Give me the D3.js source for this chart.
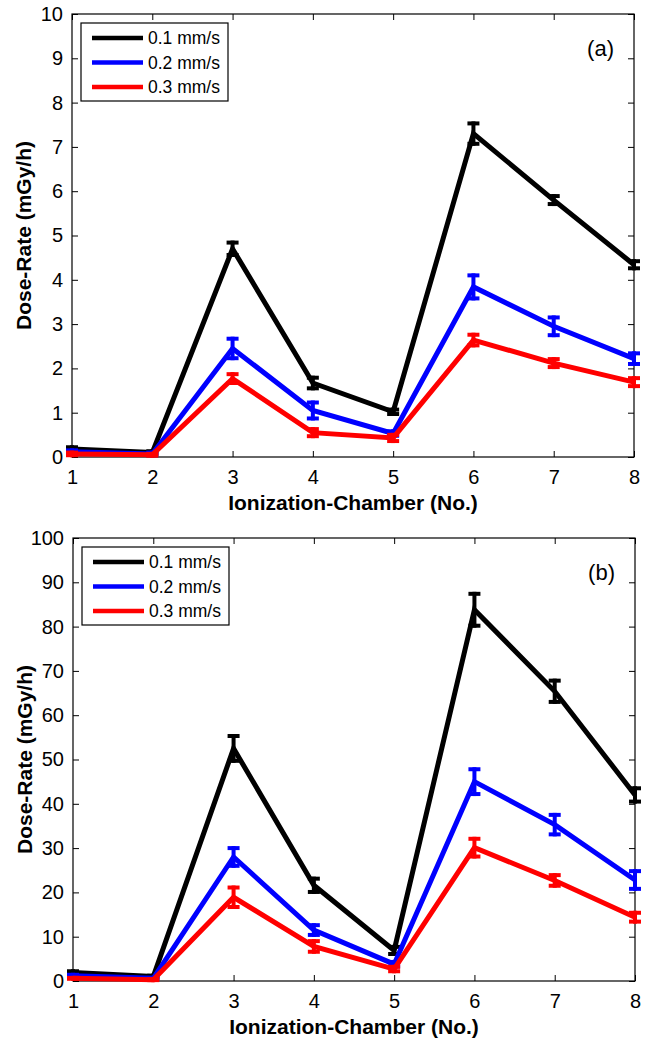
<!DOCTYPE html>
<html>
<head>
<meta charset="utf-8">
<script src="https://cdn.jsdelivr.net/npm/d3@7"></script>
<style>
  body { margin: 0; background: #fff; }
  svg { font-family: "Liberation Sans", Arial, sans-serif; }
</style>
</head>
<body>
<svg id="chart" width="649" height="1041"></svg>
<script>
const chambers = [1, 2, 3, 4, 5, 6, 7, 8];
const speeds = ["0.1 mm/s", "0.2 mm/s", "0.3 mm/s"];
const colors = ["#000000", "#0000ff", "#ff0000"];

// panel (a), mGy/h
const a01 = [0.18, 0.10, 4.70, 1.67, 1.02, 7.30, 5.80, 4.34];
const a01err = [0.04, 0.03, 0.14, 0.12, 0.05, 0.23, 0.09, 0.08];
const a02 = [0.12, 0.07, 2.45, 1.05, 0.53, 3.84, 2.95, 2.22];
const a02err = [0.03, 0.03, 0.22, 0.18, 0.05, 0.26, 0.20, 0.12];
const a03 = [0.07, 0.05, 1.77, 0.55, 0.43, 2.64, 2.12, 1.69];
const a03err = [0.03, 0.02, 0.10, 0.08, 0.07, 0.12, 0.09, 0.09];

// panel (b), mGy/h
const b01 = [1.9, 1.0, 52.5, 21.6, 6.9, 83.8, 65.4, 42.0];
const b01err = [0.3, 0.2, 2.8, 1.5, 0.8, 3.6, 2.4, 1.5];
const b02 = [1.2, 0.6, 28.0, 11.5, 3.8, 45.0, 35.3, 22.8];
const b02err = [0.2, 0.1, 2.0, 1.1, 0.5, 2.8, 2.2, 2.0];
const b03 = [0.6, 0.3, 18.9, 7.8, 2.7, 30.1, 22.7, 14.4];
const b03err = [0.1, 0.1, 2.2, 1.2, 0.5, 2.0, 1.2, 1.0];

const yTicksA = d3.range(0, 11, 1);
const yTicksB = d3.range(0, 101, 10);

const svg = d3.select("#chart");

function panel(cfg) {
  const {top, bottom, left, right, ymax, yticks, series, errs, tag} = cfg;
  const g = svg.append("g");
  const x = d3.scaleLinear().domain([1, 8]).range([left, right]);
  const y = d3.scaleLinear().domain([0, ymax]).range([bottom, top]);
  const tl = 6;

  // box
  g.append("rect")
    .attr("x", left).attr("y", top)
    .attr("width", right - left).attr("height", bottom - top)
    .attr("fill", "none").attr("stroke", "#000").attr("stroke-width", 1.2);

  // axes, ticks pointing inward on all four sides
  const xb = g.append("g").attr("transform", `translate(0,${bottom})`)
    .call(d3.axisBottom(x).tickValues(chambers).tickSize(-tl).tickPadding(13).tickFormat(d3.format("d")));
  const xt = g.append("g").attr("transform", `translate(0,${top})`)
    .call(d3.axisTop(x).tickValues(chambers).tickSize(-tl).tickFormat(""));
  const yl = g.append("g").attr("transform", `translate(${left},0)`)
    .call(d3.axisLeft(y).tickValues(yticks).tickSize(-tl).tickPadding(9).tickFormat(d3.format("d")));
  const yr = g.append("g").attr("transform", `translate(${right},0)`)
    .call(d3.axisRight(y).tickValues(yticks).tickSize(-tl).tickFormat(""));
  [xb, xt, yl, yr].forEach(a => {
    a.select(".domain").remove();
    a.selectAll(".tick line").attr("stroke", "#000").attr("stroke-width", 1);
    a.selectAll(".tick text").attr("font-size", 20).attr("fill", "#000");
  });

  // axis titles
  g.append("text")
    .attr("x", (left + right) / 2).attr("y", bottom + 53)
    .attr("text-anchor", "middle").attr("font-size", 21).attr("font-weight", "bold")
    .text("Ionization-Chamber (No.)");
  g.append("text")
    .attr("transform", `translate(${left - 41},${(top + bottom) / 2}) rotate(-90)`)
    .attr("text-anchor", "middle").attr("font-size", 21).attr("font-weight", "bold")
    .text("Dose-Rate (mGy/h)");

  const line = d3.line().x((d, i) => x(chambers[i])).y(d => y(d));

  series.forEach((s, k) => {
    const c = colors[k];
    g.append("path")
      .datum(s)
      .attr("d", line)
      .attr("fill", "none")
      .attr("stroke", c)
      .attr("stroke-width", 5)
      .attr("stroke-linejoin", "miter");

    const eb = g.append("g").selectAll("g")
      .data(s.map((v, i) => ({x: chambers[i], v, e: errs[k][i]})))
      .join("g");
    eb.append("line")
      .attr("x1", d => x(d.x)).attr("x2", d => x(d.x))
      .attr("y1", d => y(d.v - d.e) + 2).attr("y2", d => y(d.v + d.e) - 2)
      .attr("stroke", c).attr("stroke-width", 4);
    [-1, 1].forEach(sg => {
      eb.append("line")
        .attr("x1", d => x(d.x) - 6).attr("x2", d => x(d.x) + 6)
        .attr("y1", d => y(d.v + sg * d.e)).attr("y2", d => y(d.v + sg * d.e))
        .attr("stroke", c).attr("stroke-width", 4);
    });
  });

  // legend
  const lg = g.append("g").attr("transform", `translate(${left + 9},${top + 9})`);
  lg.append("rect")
    .attr("width", 147).attr("height", 78)
    .attr("fill", "#fff").attr("stroke", "#000").attr("stroke-width", 1.2);
  speeds.forEach((s, k) => {
    const yy = 15 + k * 24.5;
    lg.append("line")
      .attr("x1", 11).attr("x2", 62).attr("y1", yy).attr("y2", yy)
      .attr("stroke", colors[k]).attr("stroke-width", 4.5);
    lg.append("text")
      .attr("x", 67).attr("y", yy + 6)
      .attr("font-size", 17.5)
      .text(s);
  });

  g.append("text")
    .attr("x", right - 20).attr("y", top + 42)
    .attr("text-anchor", "end").attr("font-size", 22)
    .text(tag);
}

panel({
  top: 14, bottom: 457, left: 72, right: 634, ymax: 10, yticks: yTicksA,
  series: [a01, a02, a03], errs: [a01err, a02err, a03err], tag: "(a)"
});
panel({
  top: 538, bottom: 981, left: 73, right: 635, ymax: 100, yticks: yTicksB,
  series: [b01, b02, b03], errs: [b01err, b02err, b03err], tag: "(b)"
});
</script>
</body>
</html>
